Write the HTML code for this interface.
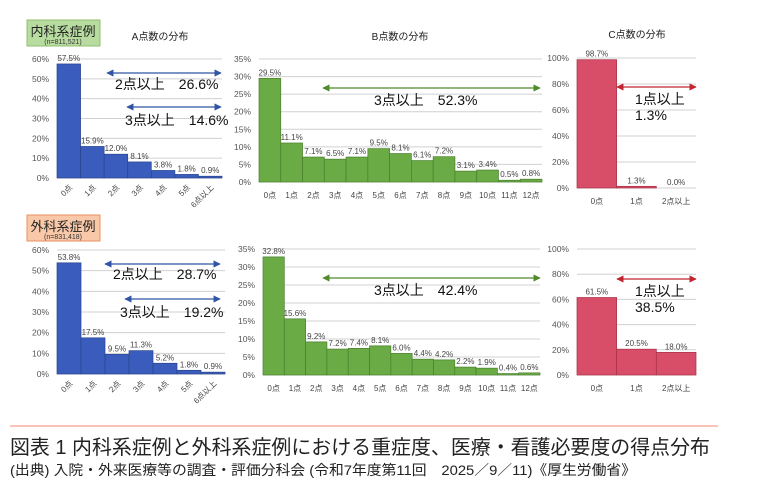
<!DOCTYPE html><html><head><meta charset="utf-8"><style>
body{margin:0;background:#fff;}
svg{display:block;font-family:"Liberation Sans","Noto Sans CJK JP",sans-serif;}
</style></head><body>
<svg id="s" width="780" height="484" viewBox="0 0 780 484" xmlns="http://www.w3.org/2000/svg">
<defs>
<marker id="mb" viewBox="0 0 10 10" refX="9" refY="5" markerWidth="6" markerHeight="6" orient="auto-start-reverse"><path d="M0,0L10,5L0,10z" fill="#2f55a4"/></marker>
<marker id="mg" viewBox="0 0 10 10" refX="9" refY="5" markerWidth="6" markerHeight="6" orient="auto-start-reverse"><path d="M0,0L10,5L0,10z" fill="#4f8a2b"/></marker>
<marker id="mr" viewBox="0 0 10 10" refX="9" refY="5" markerWidth="6" markerHeight="6" orient="auto-start-reverse"><path d="M0,0L10,5L0,10z" fill="#c0262f"/></marker>
</defs>
<rect x="27" y="20" width="73" height="26" fill="#b8dca0" stroke="#8fc070"/>
<text x="63" y="36" font-size="13" text-anchor="middle" fill="#222">内科系症例</text>
<text x="63" y="44" font-size="7" text-anchor="middle" fill="#333">(n=811,521)</text>
<rect x="27" y="215" width="73" height="26" fill="#f8c8a8" stroke="#e89060"/>
<text x="63" y="231" font-size="13" text-anchor="middle" fill="#222">外科系症例</text>
<text x="63" y="239" font-size="7" text-anchor="middle" fill="#333">(n=831,418)</text>
<text x="160" y="40" font-size="10" text-anchor="middle" fill="#222">A点数の分布</text>
<text x="400" y="40" font-size="10" text-anchor="middle" fill="#222">B点数の分布</text>
<text x="637" y="38" font-size="10" text-anchor="middle" fill="#222">C点数の分布</text>
<g id="g"></g>
<line x1="107" y1="73" x2="221" y2="73" stroke="#2f55a4" stroke-width="1.2" marker-start="url(#mb)" marker-end="url(#mb)"/>
<text x="115" y="89" font-size="14" fill="#111">2点以上　26.6%</text>
<line x1="127" y1="107" x2="221" y2="107" stroke="#2f55a4" stroke-width="1.2" marker-start="url(#mb)" marker-end="url(#mb)"/>
<text x="125" y="125" font-size="14" fill="#111">3点以上　14.6%</text>
<line x1="105" y1="264" x2="220" y2="264" stroke="#2f55a4" stroke-width="1.2" marker-start="url(#mb)" marker-end="url(#mb)"/>
<text x="113" y="279" font-size="14" fill="#111">2点以上　28.7%</text>
<line x1="125" y1="299" x2="220" y2="299" stroke="#2f55a4" stroke-width="1.2" marker-start="url(#mb)" marker-end="url(#mb)"/>
<text x="120" y="317" font-size="14" fill="#111">3点以上　19.2%</text>
<line x1="323" y1="88" x2="540" y2="88" stroke="#4f8a2b" stroke-width="1.2" marker-start="url(#mg)" marker-end="url(#mg)"/>
<text x="374" y="105" font-size="14" fill="#111">3点以上　52.3%</text>
<line x1="323" y1="278" x2="540" y2="278" stroke="#4f8a2b" stroke-width="1.2" marker-start="url(#mg)" marker-end="url(#mg)"/>
<text x="374" y="295" font-size="14" fill="#111">3点以上　42.4%</text>
<line x1="617" y1="87" x2="696" y2="87" stroke="#c0262f" stroke-width="1.2" marker-start="url(#mr)" marker-end="url(#mr)"/>
<text x="635" y="104" font-size="14" fill="#111">1点以上</text>
<text x="635" y="120" font-size="14" fill="#111">1.3%</text>
<line x1="617" y1="279" x2="696" y2="279" stroke="#c0262f" stroke-width="1.2" marker-start="url(#mr)" marker-end="url(#mr)"/>
<text x="635" y="296" font-size="14" fill="#111">1点以上</text>
<text x="635" y="312" font-size="14" fill="#111">38.5%</text>
<line x1="10" y1="426" x2="718" y2="426" stroke="#f08a70" stroke-width="1"/>
<text x="10" y="454" font-size="20" fill="#222" textLength="700" lengthAdjust="spacingAndGlyphs">図表 1  内科系症例と外科系症例における重症度、医療・看護必要度の得点分布</text>
<text x="10" y="475" font-size="14" fill="#222" textLength="626" lengthAdjust="spacingAndGlyphs">(出典) 入院・外来医療等の調査・評価分科会 (令和7年度第11回　2025／9／11)《厚生労働省》</text>
</svg>
<script>
var NS="http://www.w3.org/2000/svg",G=document.getElementById("g");
function el(t,a,txt){var e=document.createElementNS(NS,t);for(var k in a)e.setAttribute(k,a[k]);if(txt!=null)e.textContent=txt;G.appendChild(e);return e;}
function chart(o){
 var n=o.v.length,w=(o.x1-o.x0)/n,sc=(o.y0-o.yt)/o.max;
 for(var t=0;t<=o.max;t+=o.step){var y=o.y0-t*sc;
  el("line",{x1:o.x0,x2:o.x1,y1:y,y2:y,stroke:"#d0d0d0","stroke-width":1});
  el("text",{x:o.x0-8,y:y+3,"font-size":8.5,"text-anchor":"end",fill:"#555"},t+"%");}
 for(var i=0;i<n;i++){var h=o.v[i]*sc,x=o.x0+i*w;
  el("rect",{x:x,y:o.y0-h,width:w,height:h,fill:o.c,stroke:o.sc,"stroke-width":0.7});
  el("text",{x:x+w/2,y:o.y0-h-3,"font-size":8,"text-anchor":"middle",fill:"#444"},o.v[i].toFixed(1)+"%");
  if(o.rot){el("text",{x:x+w/2+4,y:o.y0+10,"font-size":8,"text-anchor":"end",fill:"#444",transform:"rotate(-45 "+(x+w/2+4)+" "+(o.y0+10)+")"},o.l[i]);}
  else el("text",{x:x+w/2,y:o.y0+o.ly,"font-size":8,"text-anchor":"middle",fill:"#444"},o.l[i]);}
}
var LA=["0点","1点","2点","3点","4点","5点","6点以上"],LB=["0点","1点","2点","3点","4点","5点","6点","7点","8点","9点","10点","11点","12点"],LC=["0点","1点","2点以上"];
chart({x0:57,x1:222,y0:178,yt:59,max:60,step:10,v:[57.5,15.9,12.0,8.1,3.8,1.8,0.9],l:LA,rot:1,c:"#3a5cbc",sc:"#2a4690"});
chart({x0:259,x1:542,y0:182,yt:59,max:35,step:5,v:[29.5,11.1,7.1,6.5,7.1,9.5,8.1,6.1,7.2,3.1,3.4,0.5,0.8],l:LB,ly:16,c:"#6aab45",sc:"#4a7f2c"});
chart({x0:577,x1:696,y0:188,yt:58,max:100,step:20,v:[98.7,1.3,0.0],l:LC,ly:16,c:"#d84e68",sc:"#a83048"});
chart({x0:57,x1:225,y0:374,yt:250,max:60,step:10,v:[53.8,17.5,9.5,11.3,5.2,1.8,0.9],l:LA,rot:1,c:"#3a5cbc",sc:"#2a4690"});
chart({x0:263,x1:540,y0:375,yt:249,max:35,step:5,v:[32.8,15.6,9.2,7.2,7.4,8.1,6.0,4.4,4.2,2.2,1.9,0.4,0.6],l:LB,ly:16,c:"#6aab45",sc:"#4a7f2c"});
chart({x0:577,x1:696,y0:375,yt:249,max:100,step:20,v:[61.5,20.5,18.0],l:LC,ly:16,c:"#d84e68",sc:"#a83048"});
</script>
</body></html>
